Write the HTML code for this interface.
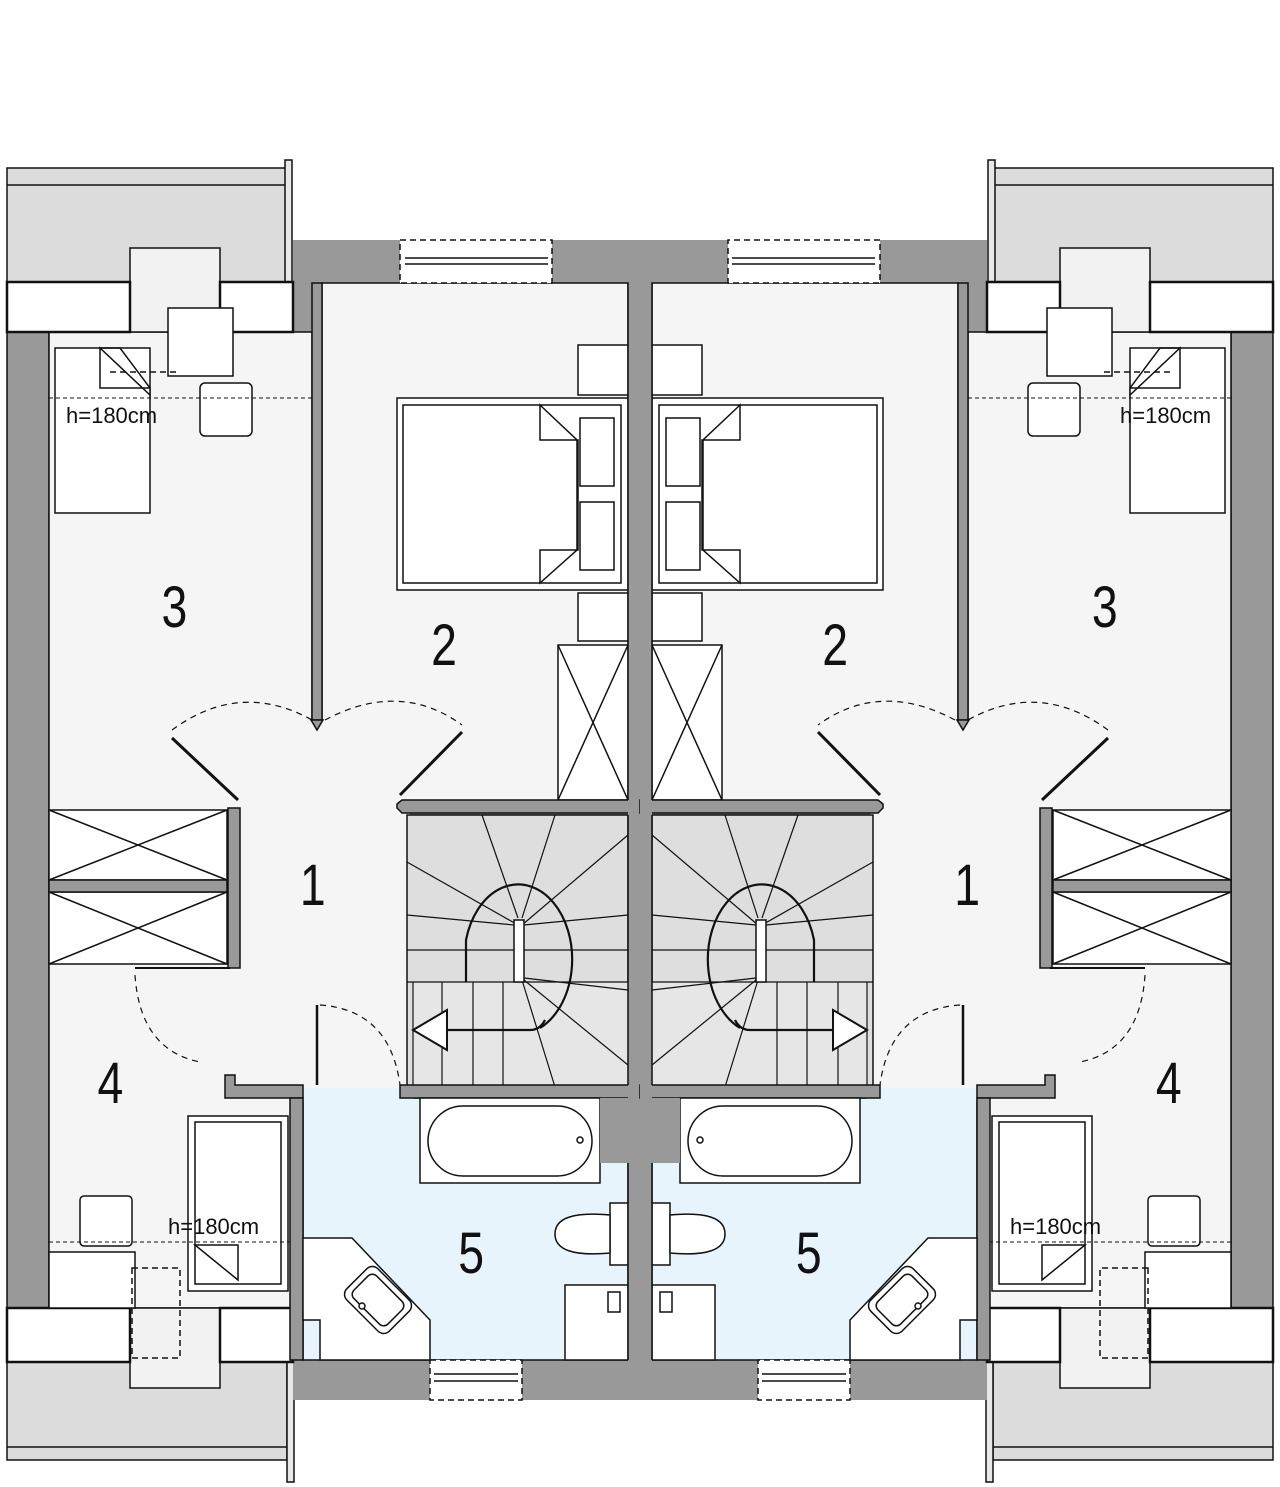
<!DOCTYPE html>
<html><head><meta charset="utf-8"><style>
html,body{margin:0;padding:0;background:#fff}
svg{display:block}
text{font-family:"Liberation Sans",sans-serif;fill:#111}
</style></head><body>
<svg width="1280" height="1487" viewBox="0 0 1280 1487" xmlns="http://www.w3.org/2000/svg">
<defs>
<g id="half" stroke="#111" stroke-width="1.5">
  <rect x="7" y="168" width="280" height="114" fill="#dcdcdc"/>
  <line x1="7" y1="185" x2="287" y2="185"/>
  <rect x="285" y="160" width="7" height="180" fill="#e8e8e8"/>
  <rect x="7" y="1310" width="280" height="150" fill="#dcdcdc"/>
  <line x1="7" y1="1447" x2="287" y2="1447"/>
  <rect x="287" y="1310" width="7" height="172" fill="#e8e8e8"/>
  <rect x="293" y="240" width="347" height="1160" fill="#999" stroke="none"/>
  <rect x="7" y="332" width="42" height="976" fill="#999"/>
  <rect x="49" y="332" width="263" height="976" fill="#f5f5f5"/>
  <rect x="290" y="1098" width="14" height="214" fill="#999" stroke="none"/>
  <rect x="322" y="283" width="306" height="520" fill="#f5f5f5"/>
  <rect x="240" y="720" width="170" height="370" fill="#f5f5f5" stroke="none"/>
  <rect x="307" y="720" width="100" height="370" fill="#f5f5f5" stroke="none"/>
  <rect x="303" y="1098" width="325" height="262" fill="#e8f4fb"/>
  <rect x="303" y="1088" width="110" height="12" fill="#e8f4fb" stroke="none"/>
  <rect x="312" y="283" width="10" height="437" fill="#999"/>
  <rect x="400" y="240" width="152" height="43" fill="#fff" stroke-dasharray="6,4"/>
  <line x1="405" y1="258" x2="548" y2="258"/><line x1="405" y1="264" x2="548" y2="264"/>
  <rect x="430" y="1360" width="92" height="40" fill="#fff" stroke-dasharray="6,4"/>
  <line x1="434" y1="1374" x2="518" y2="1374"/><line x1="434" y1="1381" x2="518" y2="1381"/>
  <rect x="130" y="248" width="90" height="84" fill="#f2f2f2"/>
  <rect x="7" y="282" width="123" height="50" fill="#fff" stroke-width="2.5"/>
  <rect x="220" y="282" width="73" height="50" fill="#fff" stroke-width="2.5"/>
  <rect x="55" y="348" width="95" height="165" fill="#fff"/>
  <path d="M100 348 L100 388 L150 388 L150 395 Z" fill="#fff"/>
  <path d="M100 348 L120 348 L150 388" fill="none"/>
  <rect x="168" y="308" width="65" height="68" fill="#fff"/>
  <rect x="200" y="383" width="52" height="53" rx="5" fill="#fff"/>
  <line x1="49" y1="398" x2="312" y2="398" stroke-dasharray="4,3" stroke-width="1"/>
  <line x1="110" y1="372" x2="180" y2="372" stroke-dasharray="6,4"/>
  <rect x="130" y="1308" width="90" height="80" fill="#f2f2f2"/>
  <rect x="7" y="1308" width="123" height="54" fill="#fff" stroke-width="2.5"/>
  <rect x="220" y="1308" width="73" height="54" fill="#fff" stroke-width="2.5"/>
  <rect x="188" y="1116" width="100" height="175" fill="#fff"/>
  <rect x="195" y="1122" width="86" height="162" fill="#fff"/>
  <path d="M195 1245 L238 1245 L238 1280 Z" fill="#fff"/>
  <rect x="80" y="1196" width="52" height="50" rx="4" fill="#fff"/>
  <rect x="49" y="1252" width="86" height="56" fill="#fff"/>
  <line x1="49" y1="1242" x2="303" y2="1242" stroke-dasharray="4,3" stroke-width="1"/>
  <rect x="132" y="1268" width="48" height="90" fill="none" stroke-dasharray="6,4"/>
  <g fill="#fff">
   <rect x="49" y="810" width="178" height="70"/><path d="M49 810 L227 880 M227 810 L49 880"/>
   <rect x="49" y="892" width="178" height="72"/><path d="M49 892 L227 964 M227 892 L49 964"/>
  </g>
  <rect x="49" y="880" width="178" height="12" fill="#999"/>
  <rect x="228" y="808" width="12" height="160" fill="#999"/>
  <line x1="135" y1="968" x2="230" y2="968" stroke-width="2"/>
  <path d="M225 1075 L235 1075 L235 1085 L303 1085 L303 1098 L225 1098 Z" fill="#999"/>
  <rect x="290" y="1098" width="13" height="262" fill="#999"/>
  <line x1="317" y1="1005" x2="317" y2="1085" stroke-width="2.5"/>
  <path d="M135 975 Q140 1050 200 1062" fill="none" stroke-dasharray="6,5" stroke-width="1.2"/>
  <path d="M320 1005 Q390 1010 400 1085" fill="none" stroke-dasharray="6,5" stroke-width="1.2"/>
  <line x1="172" y1="738" x2="238" y2="800" stroke-width="3"/>
  <path d="M172 730 Q240 680 312 720" fill="none" stroke-dasharray="6,5" stroke-width="1.2"/>
  <line x1="462" y1="732" x2="400" y2="795" stroke-width="3"/>
  <path d="M325 720 Q400 680 462 725" fill="none" stroke-dasharray="6,5" stroke-width="1.2"/>
  <path d="M311 720 L317 730 L323 720 Z" fill="#999"/>
  <rect x="397" y="398" width="231" height="192" fill="#fff"/>
  <rect x="403" y="405" width="218" height="178" fill="#fff"/>
  <rect x="578" y="345" width="50" height="50" fill="#fff"/>
  <rect x="578" y="593" width="50" height="48" fill="#fff"/>
  <path d="M540 405 L577 440 L577 550 L540 583 L540 550 L578 550 L578 440 L540 440 Z" fill="#fff"/>
  <rect x="580" y="418" width="34" height="68" fill="#fff"/>
  <rect x="580" y="502" width="34" height="68" fill="#fff"/>
  <rect x="558" y="645" width="70" height="155" fill="#fff"/>
  <path d="M558 645 L628 800 M628 645 L558 800"/>
  <path d="M397 804 L402 800 L640 800 L640 813 L402 813 L397 808 Z" fill="#999"/>
  <rect x="407" y="815" width="221" height="272" fill="#dedede"/>
  <rect x="412" y="982" width="216" height="105" fill="#e6e6e6" stroke="none"/>
  <g stroke-width="1.2">
   <line x1="407" y1="862" x2="518" y2="925"/><line x1="482" y1="815" x2="518" y2="918"/>
   <line x1="555" y1="815" x2="522" y2="918"/><line x1="628" y1="835" x2="522" y2="925"/>
   <line x1="407" y1="915" x2="514" y2="925"/><line x1="628" y1="915" x2="524" y2="925"/>
   <line x1="407" y1="950" x2="628" y2="950"/><line x1="407" y1="982" x2="628" y2="982"/>
   <line x1="524" y1="978" x2="628" y2="990"/><line x1="524" y1="980" x2="628" y2="1065"/>
   <line x1="522" y1="980" x2="555" y2="1087"/>
   <line x1="413" y1="982" x2="413" y2="1087"/><line x1="442" y1="982" x2="442" y2="1087"/>
   <line x1="473" y1="982" x2="473" y2="1087"/><line x1="503" y1="982" x2="503" y2="1087"/>
  </g>
  <path d="M466 982 L466 940 A54 75 0 1 1 540 1028" fill="none" stroke-width="2.2"/>
  <path d="M445 1030 L530 1030 Q540 1030 545 1020" fill="none" stroke-width="2.2"/>
  <rect x="514" y="920" width="10" height="62" fill="#fff"/>
  <path d="M413 1030 L447 1010 L447 1050 Z" fill="#fff" stroke-width="2"/>
  <rect x="400" y="1085" width="240" height="13" fill="#999"/>
  <rect x="420" y="1098" width="180" height="85" fill="#fff"/>
  <rect x="428" y="1106" width="164" height="70" rx="35" fill="#fff"/>
  <circle cx="580" cy="1140" r="3" fill="#fff"/>
  <rect x="600" y="1098" width="28" height="65" fill="#999" stroke="none"/>
  <rect x="610" y="1203" width="18" height="62" fill="#fff"/>
  <path d="M610 1215 Q555 1210 555 1234 Q555 1258 610 1253 Z" fill="#fff"/>
  <rect x="565" y="1285" width="63" height="75" fill="#fff"/>
  <rect x="608" y="1292" width="12" height="20" fill="#fff"/>
  <path d="M303 1238 L352 1238 L430 1320 L430 1360 L320 1360 L320 1320 L303 1320 Z" fill="#fff"/>
  <g transform="rotate(45 378 1300)"><rect x="348" y="1278" width="60" height="44" rx="8" fill="#fff"/><rect x="354" y="1284" width="48" height="32" rx="6" fill="#fff"/></g>
  <circle cx="362" cy="1306" r="3" fill="#fff"/>
  <rect x="628" y="283" width="12" height="1117" fill="#999" stroke="none"/>
  <line x1="628" y1="283" x2="628" y2="800"/><line x1="628" y1="815" x2="628" y2="1085"/><line x1="628" y1="1163" x2="628" y2="1360"/>
</g>
</defs>
<use href="#half"/>
<use href="#half" transform="translate(1280,0) scale(-1,1)"/>
<g font-size="22">
<text x="66" y="423">h=180cm</text>
<text x="1120" y="423">h=180cm</text>
<text x="168" y="1234">h=180cm</text>
<text x="1010" y="1234">h=180cm</text>
</g>
<g font-size="58" text-anchor="middle" transform="scale(0.8,1)">
<text x="218" y="627">3</text>
<text x="555" y="665">2</text>
<text x="1044" y="665">2</text>
<text x="1381" y="627">3</text>
<text x="391" y="905">1</text>
<text x="1209" y="905">1</text>
<text x="138" y="1103">4</text>
<text x="1461" y="1103">4</text>
<text x="589" y="1273">5</text>
<text x="1011" y="1273">5</text>
</g>
</svg>
</body></html>
